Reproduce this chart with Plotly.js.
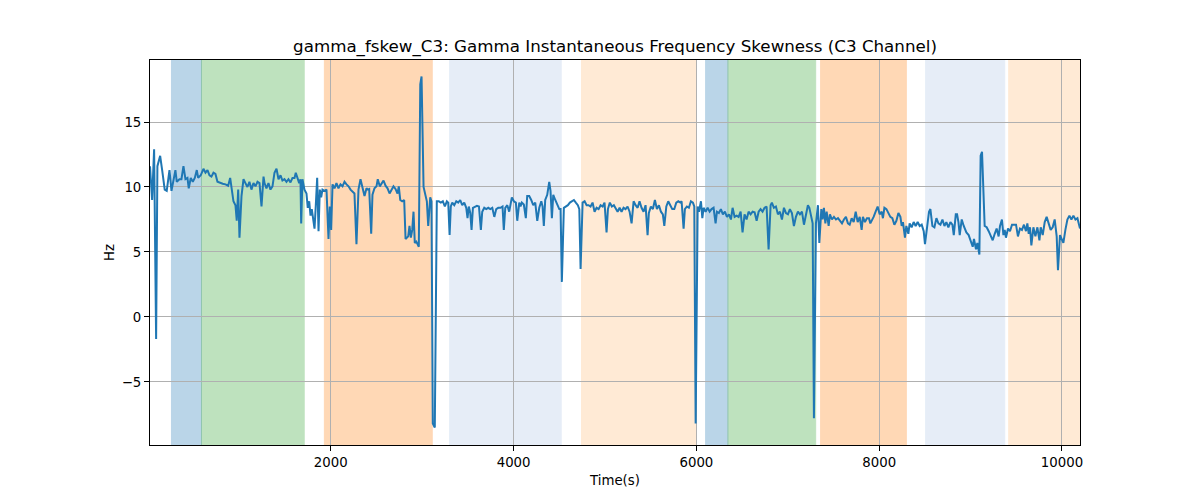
<!DOCTYPE html>
<html>
<head>
<meta charset="utf-8">
<script src="https://cdn.plot.ly/plotly-3.0.1.min.js"></script>
<style>
  body { margin: 0; background: #fff; }
  #plot-fskew { width: 1200px; height: 500px; }
</style>
</head>
<body>
<div id="plot-fskew"></div>
<script>
fskewPlot = document.getElementById('plot-fskew');

// time stamps (s)
var time_s = [
    22, 45, 67, 89, 103, 133, 155, 183, 205, 235, 257, 279, 300, 315, 344, 366, 388, 410, 432, 446,
    468, 490, 512, 534, 549, 577, 607, 629, 651, 673, 694, 716, 738, 760, 790, 818, 848, 877, 899, 921,
    935, 957, 971, 987, 1001, 1023, 1045, 1066, 1088, 1110, 1132, 1154, 1176, 1198, 1220, 1242, 1264,
    1275, 1296, 1318, 1340, 1362, 1384, 1406, 1428, 1450, 1471, 1493, 1515, 1537, 1559, 1581, 1603, 1617,
    1639, 1654, 1668, 1676, 1690, 1712, 1734, 1748, 1764, 1778, 1792, 1807, 1822, 1836, 1851, 1866, 1880,
    1895, 1909, 1931, 1953, 1975, 1989, 2004, 2019, 2041, 2062, 2084, 2106, 2128, 2150, 2172, 2194, 2216,
    2238, 2259, 2281, 2303, 2325, 2347, 2369, 2391, 2405, 2420, 2442, 2456, 2478, 2500, 2514, 2536,
    2555, 2577, 2599, 2621, 2643, 2665, 2686, 2708, 2730, 2744, 2760, 2781, 2803, 2818, 2832, 2847, 2861,
    2876, 2891, 2905, 2919, 2935, 2949, 2963, 2979, 2993, 3015, 3037, 3051, 3066, 3088, 3102, 3116, 3138,
    3160, 3182, 3204, 3226, 3248, 3270, 3285, 3300, 3313, 3329, 3351, 3373, 3394, 3416, 3438, 3460, 3482,
    3496, 3510, 3526, 3540, 3555, 3577, 3599, 3621, 3642, 3657, 3679, 3701, 3723, 3745, 3767, 3789, 3810, 3832,
    3857, 3879, 3893, 3909, 3931, 3952, 3967, 3981, 4003, 4025, 4040, 4062, 4076, 4090, 4112, 4134, 4149,
    4171, 4193, 4215, 4237, 4259, 4281, 4303, 4317, 4331, 4346, 4368, 4390, 4404, 4419, 4434, 4456, 4478,
    4500, 4514, 4528, 4550, 4572, 4594, 4616, 4638, 4660, 4681, 4703, 4719, 4733, 4755, 4777, 4799, 4820,
    4842, 4864, 4886, 4908, 4930, 4952, 4974, 4995, 5017, 5032, 5053, 5075, 5097,
    5116, 5138, 5160, 5181, 5203, 5225, 5247, 5269, 5291, 5313, 5335, 5357, 5378, 5400, 5422, 5444, 5466,
    5480, 5502, 5524, 5546, 5568, 5590, 5612, 5633, 5649, 5671, 5692, 5714, 5736, 5758, 5780, 5802, 5824,
    5838, 5860, 5874, 5896, 5918, 5940, 5962, 5977, 5992, 6014, 6028, 6050, 6065, 6079, 6101, 6123, 6145,
    6166, 6188, 6210, 6225, 6246, 6268, 6290, 6312, 6334, 6356, 6378,
    6396, 6418, 6440, 6462, 6484, 6505, 6527, 6549, 6571, 6593, 6615, 6637, 6659, 6681, 6702, 6724, 6746,
    6768, 6790, 6812, 6826, 6848, 6870, 6892, 6914, 6936, 6958, 6980, 7002, 7023, 7045, 7067, 7089, 7111,
    7133, 7155, 7177, 7199, 7220, 7236, 7258, 7272, 7286, 7308, 7330, 7345, 7367, 7381, 7395, 7411, 7425,
    7447, 7461, 7483, 7505, 7527, 7549, 7571, 7593, 7614, 7636, 7658,
    7677, 7699, 7721, 7743, 7765, 7787, 7808, 7822, 7844, 7866, 7888, 7903, 7918, 7939, 7961, 7983, 8005,
    8027, 8041, 8057, 8079, 8100, 8122, 8144, 8166, 8188, 8210, 8232, 8246, 8260, 8282, 8297, 8319, 8333,
    8355, 8377, 8399, 8421, 8443, 8465, 8487, 8501, 8523, 8545, 8560, 8582, 8604, 8626, 8648, 8670, 8692,
    8714, 8735, 8757, 8779, 8801, 8816, 8838, 8852, 8867, 8881, 8903, 8925, 8954,
    8979, 9001, 9023, 9037, 9059, 9074, 9096, 9110, 9125, 9154, 9176, 9198, 9220, 9242, 9264, 9285, 9307,
    9322, 9343, 9359, 9373, 9387, 9409, 9431, 9453, 9475, 9497, 9518, 9540, 9562, 9584, 9606, 9621, 9636,
    9650, 9665, 9687, 9709, 9731, 9753, 9767, 9789, 9811, 9832, 9854, 9876, 9898, 9920, 9942, 9956, 9978,
    10000, 10015, 10037, 10059, 10081, 10103, 10125, 10147, 10169, 10180, 10197
];

// gamma instantaneous frequency skewness (Hz)
var fskew_hz = [
    11.6, 9.0, 12.9, -1.7, 11.6, 12.4, 11.3, 9.8, 9.7, 11.3, 9.7, 10.4, 11.3, 10.4, 10.6, 10.6, 11.6, 10.6, 10.7, 9.9,
    10.7, 10.4, 10.7, 11.3, 10.7, 10.9, 11.4, 11.1, 11.3, 10.9, 10.8, 11.1, 11.0, 10.4, 10.3, 10.25, 10.2, 10.1, 10.7, 9.8,
    8.9, 8.6, 7.4, 9.8, 6.1, 9.3, 10.6, 10.3, 10.0, 10.4, 9.8, 10.3, 10.05, 10.4, 10.3, 8.5, 10.8,
    10.3, 9.9, 10.3, 9.8, 10.05, 11.1, 11.4, 10.6, 10.9, 10.5, 10.6, 10.4, 10.6, 10.35, 10.7, 10.7, 11.1,
    10.6, 10.3, 10.6, 7.2, 10.6, 9.8, 9.5, 8.4, 8.9, 7.8, 8.3, 7.5, 6.8, 8.6, 10.7, 6.6, 9.8,
    9.2, 9.8, 9.7, 9.8, 6.0, 8.5, 6.7, 10.2, 9.9, 10.3, 9.9, 10.2, 10.05, 10.4, 10.2, 10.05, 9.8,
    9.65, 9.5, 5.6, 9.8, 10.6, 10.05, 9.3, 9.9, 9.8, 9.85, 6.4, 9.4, 9.9, 10.05, 10.6, 10.05,
    10.3, 10.5, 10.1, 9.9, 9.5, 9.8, 10.05, 9.85, 9.5, 10.05, 9.0, 8.9, 9.0, 6.0, 6.1, 6.2, 7.0,
    6.1, 6.7, 8.1, 5.7, 5.8, 5.6, 5.4, 17.9, 18.5, 10.0, 9.3, 8.9, 7.0, 9.2, 8.9, -8.2, -8.5,
    8.9, 8.9, 8.8, 8.9, 8.5, 8.9, 8.8, 6.3, 8.5, 8.8, 8.6, 8.9, 8.8, 9.0, 8.6, 8.8, 8.4,
    7.6, 8.5, 8.0, 6.7, 8.4, 8.5, 8.55, 8.5, 6.7, 8.1, 8.4, 8.3, 8.4, 8.3, 8.4, 7.7, 8.3, 8.4,
    8.4, 8.5, 6.7, 8.4, 8.6, 8.1, 8.8, 9.2, 8.9, 8.8, 7.4, 8.8, 8.5, 8.8, 8.65, 7.6, 9.3,
    9.3, 9.0, 8.6, 8.8, 7.4, 8.4, 8.9, 8.5, 7.0, 9.0, 9.4, 10.4, 9.7, 7.6, 9.4, 9.0, 8.6,
    8.3, 8.3, 2.7, 8.4, 8.5, 8.6, 8.8, 8.9, 9.0, 8.8, 8.6, 8.3, 3.7, 8.8, 8.9, 8.6, 8.6,
    8.5, 8.8, 8.1, 8.4, 8.3, 8.6, 8.5, 8.8, 6.5, 8.3, 8.8, 8.5, 8.6,
    8.4, 8.1, 8.4, 8.1, 8.4, 8.3, 8.5, 8.1, 7.2, 8.9, 8.6, 8.4, 8.9, 8.4, 8.1, 8.6, 6.3,
    8.0, 8.5, 8.3, 9.0, 8.3, 8.6, 8.1, 7.9, 7.0, 8.5, 8.9, 8.6, 8.3, 8.3, 8.8, 8.9, 8.8,
    8.9, 6.8, 8.3, 8.5, 8.4, 8.9, 8.8, 8.5, -8.2, 8.5, 8.1, 8.9, 7.6, 8.4, 8.1, 8.4, 8.1,
    8.3, 8.4, 7.2, 8.1, 8.0, 8.3, 7.9, 8.1, 7.7, 7.9, 7.5,
    8.4, 7.7, 7.8, 7.7, 8.1, 6.5, 7.9, 7.5, 8.1, 7.9, 8.1, 8.05, 7.4, 8.1, 8.3, 8.1, 8.4,
    8.5, 5.2, 8.6, 8.8, 8.4, 8.5, 7.9, 8.1, 7.5, 8.4, 8.0, 7.9, 8.3, 8.0, 7.0, 7.7, 8.1,
    7.9, 8.1, 7.1, 7.9, 8.6, 8.4, 7.6, 7.2, -7.8, 7.2, 8.6, 5.7, 8.3, 7.5, 8.4, 7.2, 8.1,
    7.0, 7.9, 7.5, 7.7, 7.5, 7.6, 7.4, 7.2, 7.5, 7.7, 7.2,
    7.1, 7.6, 7.3, 8.1, 7.3, 7.7, 6.7, 7.7, 7.3, 7.6, 7.6, 7.2, 7.4, 7.7, 8.1, 8.5, 7.9,
    8.1, 7.6, 8.4, 8.3, 8.0, 7.7, 7.6, 7.1, 7.4, 8.0, 7.7, 7.0, 7.3, 6.1, 7.0, 6.4, 7.2,
    6.9, 7.3, 7.0, 7.3, 7.0, 7.1, 6.6, 5.6, 6.8, 8.1, 8.3, 7.0, 6.9, 7.6, 7.2, 7.1, 7.5,
    7.0, 7.3, 6.9, 7.3, 7.1, 6.3, 7.9, 7.9, 7.3, 6.3, 7.5, 7.0, 6.5,
    6.3, 5.9, 5.4, 6.0, 5.2, 5.7, 4.8, 12.4, 12.7, 7.0, 6.9, 6.6, 6.2, 5.9, 6.4, 6.8, 6.2,
    7.0, 7.5, 6.3, 6.7, 6.1, 6.8, 6.6, 7.1, 7.1, 7.1, 6.2, 6.8, 6.7, 7.1, 6.6, 7.2, 6.4,
    6.9, 5.5, 6.9, 6.2, 6.9, 5.9, 6.9, 6.3, 7.3, 7.7, 7.1, 6.7, 6.9, 7.5, 6.2, 3.6, 6.3,
    6.0, 5.7, 6.7, 7.5, 7.8, 7.5, 7.8, 7.5, 7.6, 7.3, 6.8
];

// shaded stage intervals (s)
var band_start = [257, 585, 1930, 3300, 4743, 6101, 6345, 7359, 8508, 9417];
var band_end   = [585, 1709, 3110, 4521, 5991, 6345, 7305, 8297, 9373, 10400];
var band_color = ['#1f77b4', '#2ca02c', '#ff7f0e', '#aec7e8', '#ffbb78',
                  '#1f77b4', '#2ca02c', '#ff7f0e', '#aec7e8', '#ffbb78'];

var shapes = band_start.map(function (s, i) {
    return {
        type: 'rect', xref: 'x', yref: 'paper',
        x0: s, x1: band_end[i], y0: 0, y1: 1,
        fillcolor: band_color[i], opacity: 0.3,
        line: {color: band_color[i], width: 1},
        layer: 'below'
    };
});

var data = [
    {
        x: time_s,
        y: fskew_hz,
        type: 'scatter',
        mode: 'lines',
        hoverinfo: 'none',
        line: {color: '#1f77b4', width: 2},
        name: 'gamma_fskew_C3'
    }
];

var layout = {
    width: 1200,
    height: 500,
    title: {
        text: 'gamma_fskew_C3: Gamma Instantaneous Frequency Skewness (C3 Channel)',
        font: {family: 'DejaVu Sans, sans-serif', size: 16.7, color: '#000'},
        x: 0.5125, xanchor: 'center',
        y: 0.908, yref: 'container', yanchor: 'middle'
    },
    font: {family: 'DejaVu Sans, sans-serif', size: 13.3, color: '#000'},
    margin: {l: 150, r: 120, t: 60, b: 55},
    paper_bgcolor: '#ffffff',
    plot_bgcolor: '#ffffff',
    showlegend: false,
    shapes: shapes,
    xaxis: {
        title: {text: 'Time(s)', standoff: 6, font: {size: 13.3}},
        range: [22, 10197],
        tickmode: 'linear', tick0: 0, dtick: 2000, tickformat: 'd',
        ticks: 'outside', ticklen: 5, tickcolor: '#000',
        showgrid: true, gridcolor: '#b0b0b0', gridwidth: 1,
        showline: true, linecolor: '#000', linewidth: 1, mirror: true,
        zeroline: false
    },
    yaxis: {
        title: {text: 'Hz', standoff: 4, font: {size: 13.3}},
        range: [-9.85, 19.77],
        tickmode: 'linear', tick0: 0, dtick: 5,
        ticks: 'outside', ticklen: 5, tickcolor: '#000',
        showgrid: true, gridcolor: '#b0b0b0', gridwidth: 1,
        showline: true, linecolor: '#000', linewidth: 1, mirror: true,
        zeroline: false
    }
};

Plotly.newPlot(fskewPlot, data, layout, {displayModeBar: false, staticPlot: true});
</script>
</body>
</html>
